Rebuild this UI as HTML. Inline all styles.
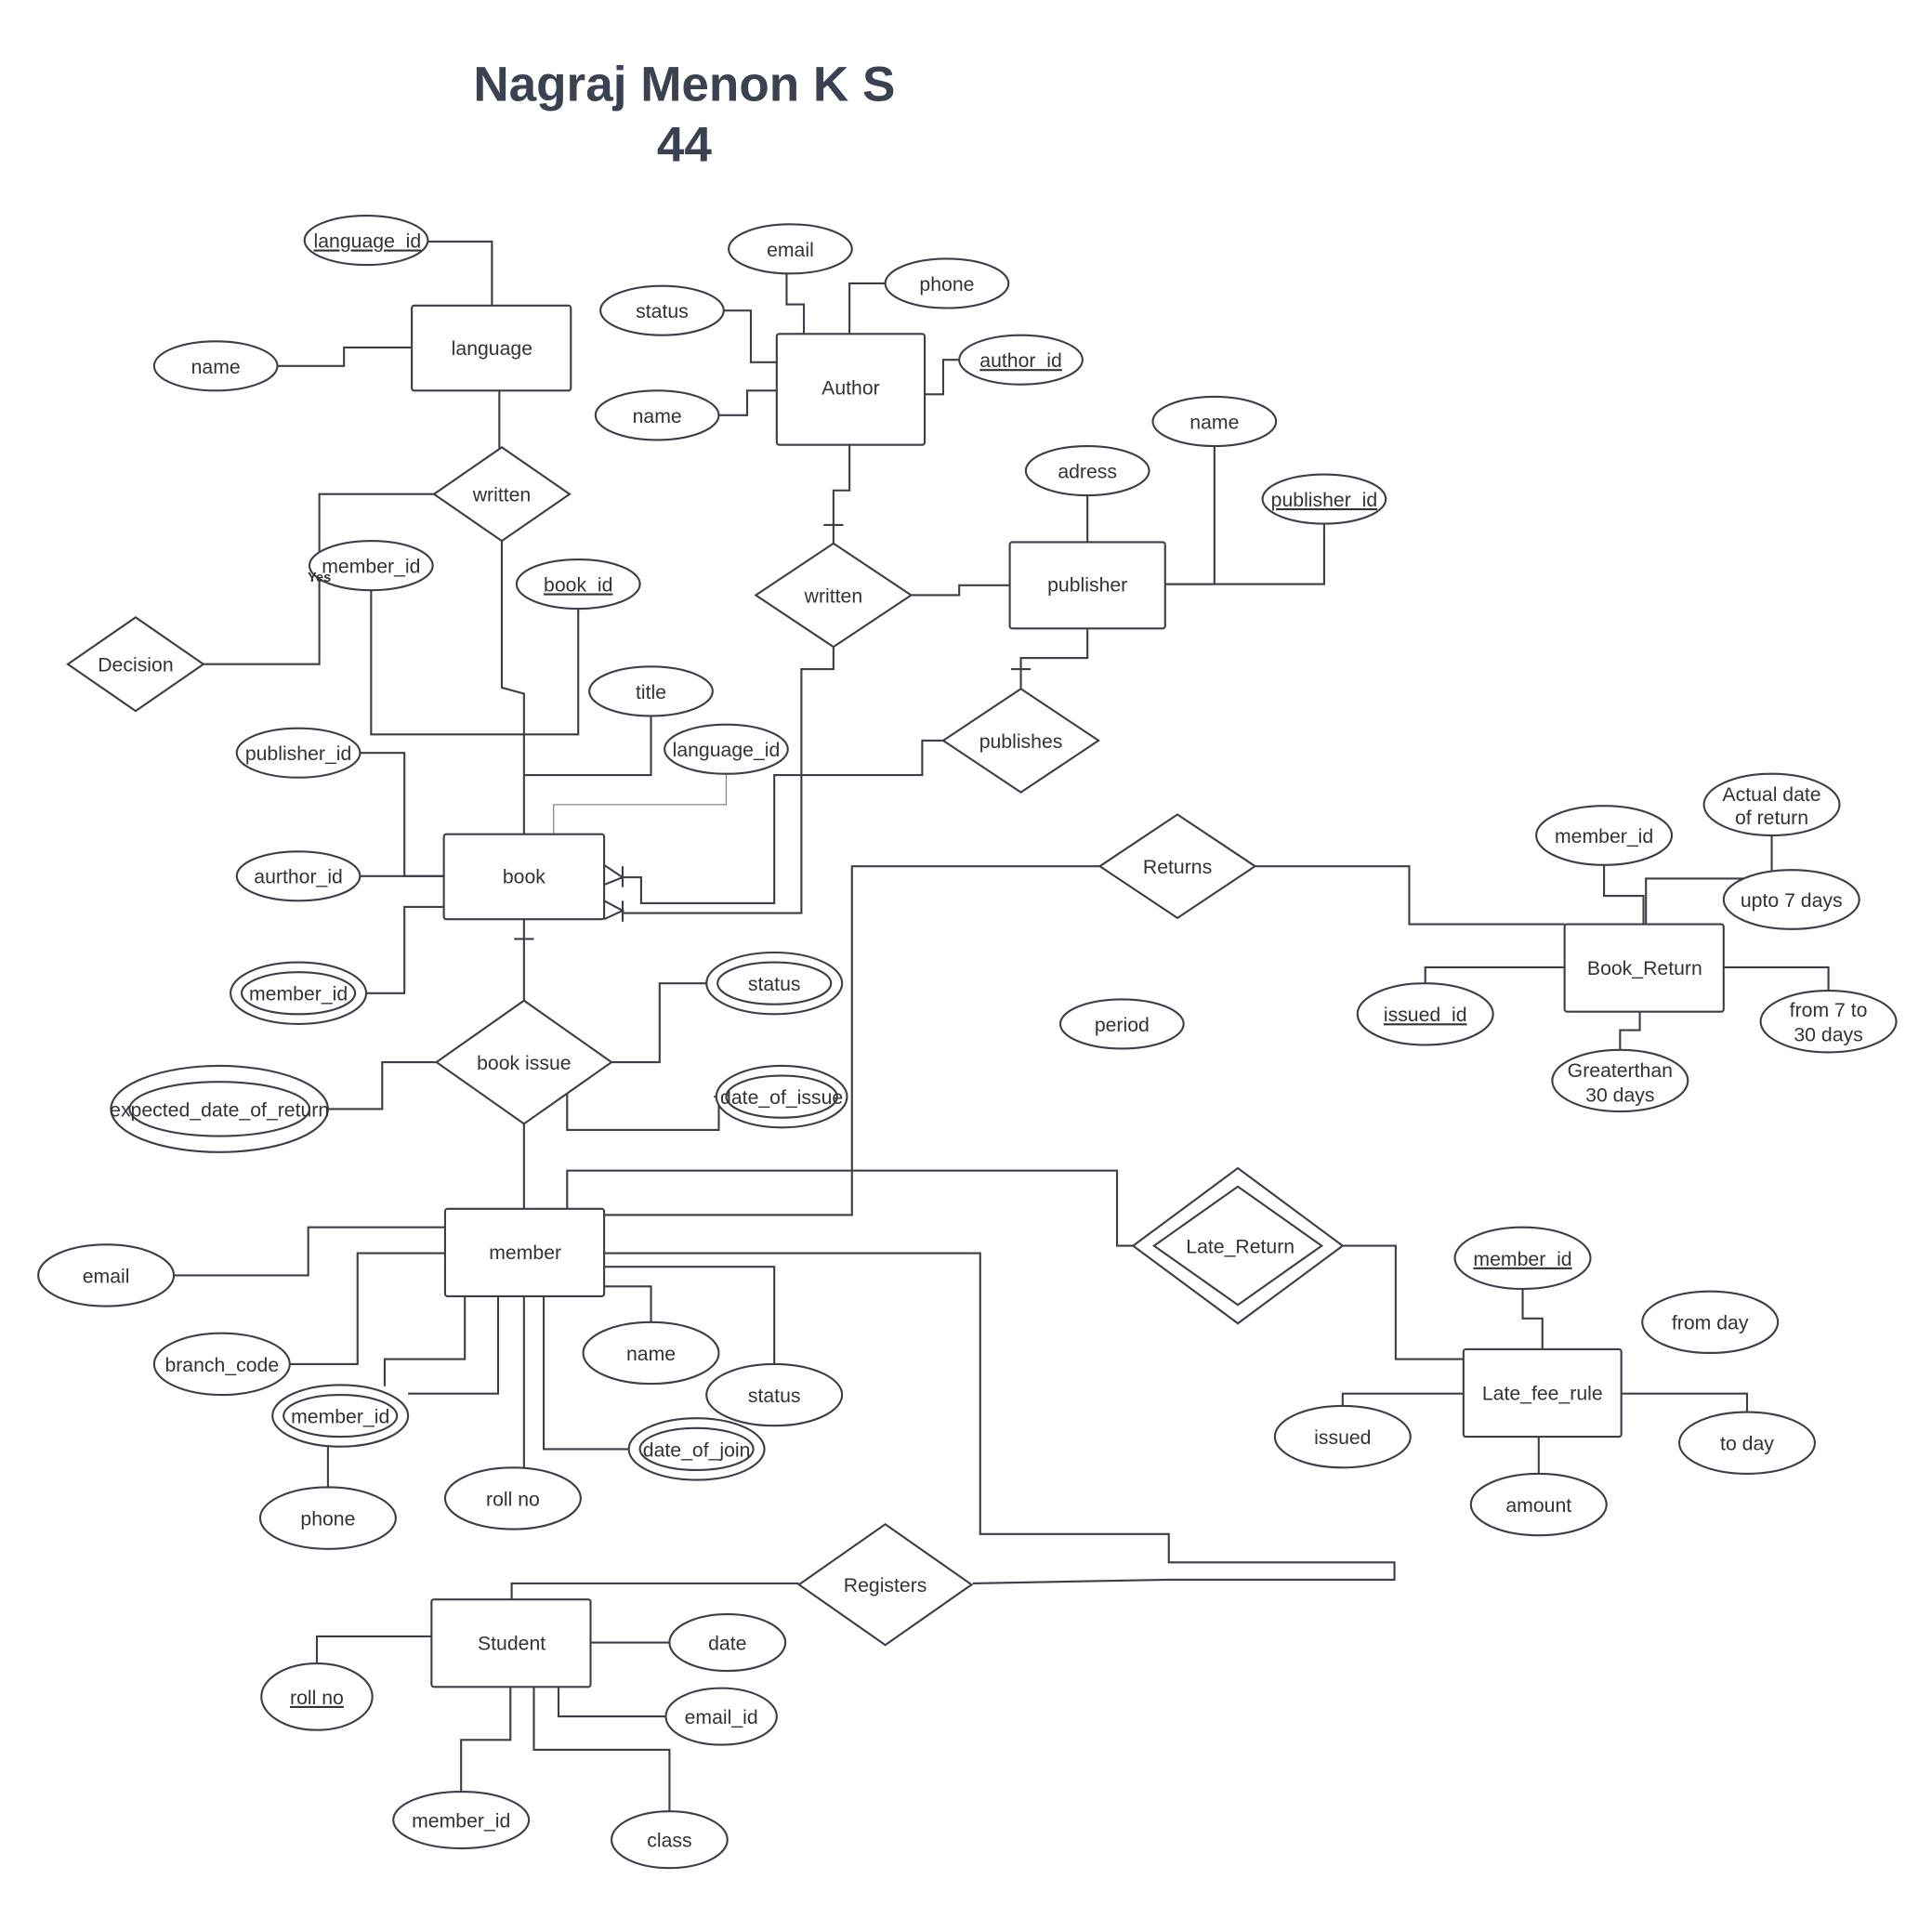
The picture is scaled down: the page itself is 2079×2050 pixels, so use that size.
<!DOCTYPE html>
<html><head><meta charset="utf-8"><style>
html,body{margin:0;padding:0;background:#fff;}
svg{display:block}
text{font-family:"Liberation Sans",sans-serif;font-size:16px;fill:#333;}
</style></head><body>
<svg width="2079" height="2050" viewBox="0 0 1567 1546" preserveAspectRatio="none" xmlns="http://www.w3.org/2000/svg">
<rect width="1570" height="1550" fill="#fff"/>
<text x="555" y="82" text-anchor="middle" style="font-size:40px;font-weight:bold;fill:#3a4150">Nagraj Menon K S</text>
<text x="555" y="131" text-anchor="middle" style="font-size:40px;font-weight:bold;fill:#3a4150">44</text>
<g fill="none" stroke="#3a3f4a" stroke-width="1.6">
<polyline points="347,196 399,196 399,248"/>
<polyline points="225,297 279,297 279,282 334,282"/>
<polyline points="405,317 405,364"/>
<polyline points="407,439 407,558 425,563 425,677"/>
<polyline points="352,401 259,401 259,539 165,539"/>
<polyline points="301,479 301,596 425,596"/>
<polyline points="469,494 469,596 425,596"/>
<polyline points="528,581 528,629 425,629"/>
<polyline points="589,628 589,653 449,653 449,677" stroke="#888" stroke-width="1"/>
<polyline points="292,611 328,611 328,711 360,711"/>
<polyline points="292,711 360,711"/>
<polyline points="297,806 328,806 328,736 360,736"/>
<polyline points="505,741 650,741 650,543 676,543 676,525"/>
<polyline points="505,712 520,712 520,733 628,733 628,629 748,629 748,601 765,601"/>
<polyline points="490,702 505,712 490,718"/><line x1="505" y1="703" x2="505" y2="720"/>
<polyline points="490,731 505,739 490,746"/><line x1="505" y1="731" x2="505" y2="748"/>
<polyline points="689,361 689,398 676,398 676,441"/><line x1="668" y1="426" x2="684" y2="426"/>
<polyline points="638,222 638,247 652,247 652,271"/>
<polyline points="718,230 689,230 689,271"/>
<polyline points="587,252 609,252 609,294 630,294"/>
<polyline points="583,337 606,337 606,317 630,317"/>
<polyline points="778,292 765,292 765,320 750,320"/>
<polyline points="739,483 778,483 778,475 819,475"/>
<polyline points="882,510 882,534 828,534 828,559"/><line x1="820" y1="543" x2="836" y2="543"/>
<polyline points="882,402 882,440"/>
<polyline points="985,362 985,474 945,474"/>
<polyline points="1074,425 1074,474 945,474"/>
<polyline points="425,746 425,812"/><line x1="417" y1="762" x2="433" y2="762"/>
<polyline points="573,798 535,798 535,862 496,862"/>
<polyline points="579,890 583,890 583,917 460,917 460,885"/>
<polyline points="266,900 310,900 310,862 354,862"/>
<polyline points="425,912 425,981"/>
<polyline points="892,703 691,703 691,986 490,986"/>
<polyline points="1018,703 1143,703 1143,750 1269,750"/>
<polyline points="1301,702 1301,727 1333,727 1333,750"/>
<polyline points="1437,678 1437,713 1335,713 1335,750"/>
<polyline points="1156,798 1156,785 1269,785"/>
<polyline points="1483,804 1483,785 1398,785"/>
<polyline points="1314,852 1314,836 1330,836 1330,821"/>
<polyline points="460,981 460,950 906,950 906,1011 919,1011"/>
<polyline points="1089,1011 1132,1011 1132,1103 1187,1103"/>
<polyline points="1235,1046 1235,1070 1251,1070 1251,1095"/>
<polyline points="1089,1141 1089,1131 1187,1131"/>
<polyline points="1417,1146 1417,1131 1315,1131"/>
<polyline points="1248,1196 1248,1166"/>
<polyline points="141,1035 250,1035 250,996 361,996"/>
<polyline points="235,1107 290,1107 290,1017 361,1017"/>
<polyline points="312,1125 312,1103 377,1103 377,1052"/>
<polyline points="331,1131 404,1131 404,1052"/>
<polyline points="266,1207 266,1160"/>
<polyline points="425,1191 425,1052"/>
<polyline points="510,1176 441,1176 441,1052"/>
<polyline points="528,1073 528,1044 490,1044"/>
<polyline points="628,1107 628,1028 490,1028"/>
<polyline points="490,1017 795,1017 795,1245 948,1245 948,1268 1131,1268 1131,1282 948,1282 789,1285"/>
<polyline points="648,1285 415,1285 415,1298"/>
<polyline points="257,1350 257,1328 350,1328"/>
<polyline points="543,1333 479,1333"/>
<polyline points="540,1393 453,1393 453,1369"/>
<polyline points="374,1454 374,1412 414,1412 414,1369"/>
<polyline points="543,1470 543,1420 433,1420 433,1369"/>
</g>
<g fill="#fff" stroke="#3a3f4a" stroke-width="1.6">
<rect x="334" y="248" width="129" height="69" rx="2"/>
<rect x="630" y="271" width="120" height="90" rx="2"/>
<rect x="819" y="440" width="126" height="70" rx="2"/>
<rect x="360" y="677" width="130" height="69" rx="2"/>
<rect x="361" y="981" width="129" height="71" rx="2"/>
<rect x="1269" y="750" width="129" height="71" rx="2"/>
<rect x="1187" y="1095" width="128" height="71" rx="2"/>
<rect x="350" y="1298" width="129" height="71" rx="2"/>
<polygon points="352,401 407,363 462,401 407,439"/>
<polygon points="613,483 676,441 739,483 676,525"/>
<polygon points="55,539 110,501 165,539 110,577"/>
<polygon points="765,601 828,559 891,601 828,643"/>
<polygon points="892,703 955,661 1018,703 955,745"/>
<polygon points="354,862 425,812 496,862 425,912"/>
<polygon points="919,1011 1004,948 1089,1011 1004,1074"/>
<polygon points="936,1011 1004,963 1072,1011 1004,1059"/>
<polygon points="648,1286 718,1237 788,1286 718,1335"/>
<ellipse cx="297" cy="195" rx="50" ry="20"/>
<ellipse cx="175" cy="297" rx="50" ry="20"/>
<ellipse cx="641" cy="202" rx="50" ry="20"/>
<ellipse cx="768" cy="230" rx="50" ry="20"/>
<ellipse cx="537" cy="252" rx="50" ry="20"/>
<ellipse cx="828" cy="292" rx="50" ry="20"/>
<ellipse cx="533" cy="337" rx="50" ry="20"/>
<ellipse cx="985" cy="342" rx="50" ry="20"/>
<ellipse cx="882" cy="382" rx="50" ry="20"/>
<ellipse cx="1074" cy="405" rx="50" ry="20"/>
<ellipse cx="301" cy="459" rx="50" ry="20"/>
<ellipse cx="469" cy="474" rx="50" ry="20"/>
<ellipse cx="528" cy="561" rx="50" ry="20"/>
<ellipse cx="589" cy="608" rx="50" ry="20"/>
<ellipse cx="242" cy="611" rx="50" ry="20"/>
<ellipse cx="242" cy="711" rx="50" ry="20"/>
<ellipse cx="242" cy="806" rx="55" ry="25"/><ellipse cx="242" cy="806" rx="46" ry="17"/>
<ellipse cx="628" cy="798" rx="55" ry="25"/><ellipse cx="628" cy="798" rx="46" ry="17"/>
<ellipse cx="634" cy="890" rx="53" ry="25"/><ellipse cx="634" cy="890" rx="45" ry="17"/>
<ellipse cx="178" cy="900" rx="88" ry="35"/><ellipse cx="178" cy="900" rx="73" ry="22"/>
<ellipse cx="910" cy="831" rx="50" ry="20"/>
<ellipse cx="1301" cy="678" rx="55" ry="24"/>
<ellipse cx="1437" cy="653" rx="55" ry="25"/>
<ellipse cx="1453" cy="730" rx="55" ry="24"/>
<ellipse cx="1156" cy="823" rx="55" ry="25"/>
<ellipse cx="1483" cy="829" rx="55" ry="25"/>
<ellipse cx="1314" cy="877" rx="55" ry="25"/>
<ellipse cx="86" cy="1035" rx="55" ry="25"/>
<ellipse cx="180" cy="1107" rx="55" ry="25"/>
<ellipse cx="276" cy="1149" rx="55" ry="25"/><ellipse cx="276" cy="1149" rx="46" ry="17"/>
<ellipse cx="528" cy="1098" rx="55" ry="25"/>
<ellipse cx="628" cy="1132" rx="55" ry="25"/>
<ellipse cx="565" cy="1176" rx="55" ry="25"/><ellipse cx="565" cy="1176" rx="46" ry="17"/>
<ellipse cx="416" cy="1216" rx="55" ry="25"/>
<ellipse cx="266" cy="1232" rx="55" ry="25"/>
<ellipse cx="1235" cy="1021" rx="55" ry="25"/>
<ellipse cx="1387" cy="1073" rx="55" ry="25"/>
<ellipse cx="1089" cy="1166" rx="55" ry="25"/>
<ellipse cx="1417" cy="1171" rx="55" ry="25"/>
<ellipse cx="1248" cy="1221" rx="55" ry="25"/>
<ellipse cx="590" cy="1333" rx="47" ry="23"/>
<ellipse cx="257" cy="1377" rx="45" ry="27"/>
<ellipse cx="585" cy="1393" rx="45" ry="23"/>
<ellipse cx="374" cy="1477" rx="55" ry="23"/>
<ellipse cx="543" cy="1493" rx="47" ry="23"/>
</g>
<g text-anchor="middle">
<text x="399" y="288">language</text>
<text x="690" y="320">Author</text>
<text x="882" y="480">publisher</text>
<text x="425" y="717">book</text>
<text x="426" y="1022">member</text>
<text x="1334" y="791">Book_Return</text>
<text x="1251" y="1136">Late_fee_rule</text>
<text x="415" y="1339">Student</text>
<text x="407" y="407">written</text>
<text x="676" y="489">written</text>
<text x="110" y="545">Decision</text>
<text x="828" y="607">publishes</text>
<text x="955" y="709">Returns</text>
<text x="425" y="868">book issue</text>
<text x="1006" y="1017">Late_Return</text>
<text x="718" y="1292">Registers</text>
<text x="259" y="472" style="font-size:11px;font-weight:bold">Yes</text>
<text x="298" y="201" text-decoration="underline">language_id</text>
<text x="175" y="303">name</text>
<text x="641" y="208">email</text>
<text x="768" y="236">phone</text>
<text x="537" y="258">status</text>
<text x="828" y="298" text-decoration="underline">author_id</text>
<text x="533" y="343">name</text>
<text x="985" y="348">name</text>
<text x="882" y="388">adress</text>
<text x="1074" y="411" text-decoration="underline">publisher_id</text>
<text x="301" y="465">member_id</text>
<text x="469" y="480" text-decoration="underline">book_id</text>
<text x="528" y="567">title</text>
<text x="589" y="614">language_id</text>
<text x="242" y="617">publisher_id</text>
<text x="242" y="717">aurthor_id</text>
<text x="242" y="812">member_id</text>
<text x="628" y="804">status</text>
<text x="634" y="896">date_of_issue</text>
<text x="178" y="906">expected_date_of_return</text>
<text x="910" y="837">period</text>
<text x="1301" y="684">member_id</text>
<text x="1437" y="650">Actual date</text>
<text x="1437" y="669">of return</text>
<text x="1453" y="736">upto 7 days</text>
<text x="1156" y="829" text-decoration="underline">issued_id</text>
<text x="1483" y="825">from 7 to</text>
<text x="1483" y="845">30 days</text>
<text x="1314" y="874">Greaterthan</text>
<text x="1314" y="894">30 days</text>
<text x="86" y="1041">email</text>
<text x="180" y="1113">branch_code</text>
<text x="276" y="1155">member_id</text>
<text x="528" y="1104">name</text>
<text x="628" y="1138">status</text>
<text x="565" y="1182">date_of_join</text>
<text x="416" y="1222">roll no</text>
<text x="266" y="1238">phone</text>
<text x="1235" y="1027" text-decoration="underline">member_id</text>
<text x="1387" y="1079">from day</text>
<text x="1089" y="1172">issued</text>
<text x="1417" y="1177">to day</text>
<text x="1248" y="1227">amount</text>
<text x="590" y="1339">date</text>
<text x="257" y="1383" text-decoration="underline">roll no</text>
<text x="585" y="1399">email_id</text>
<text x="374" y="1483">member_id</text>
<text x="543" y="1499">class</text>
</g>
</svg>
</body></html>
